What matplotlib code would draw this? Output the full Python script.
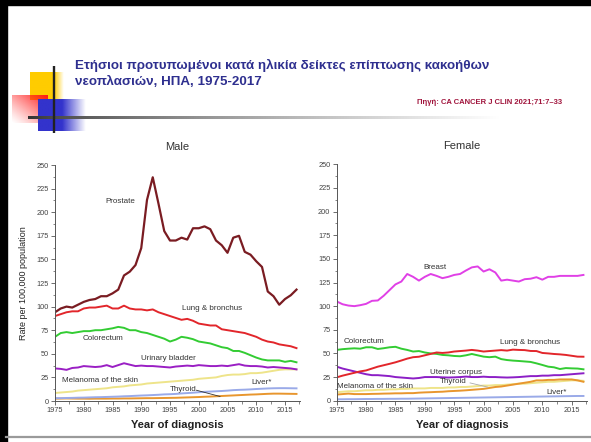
import numpy as np
import matplotlib
matplotlib.use("Agg")
import matplotlib.pyplot as plt
from matplotlib.ticker import MultipleLocator

years = list(range(1975, 2018))

# ---- Male ----
male_prostate = [94, 98, 100, 99, 102, 105, 107, 108, 111, 111, 114, 118, 133, 137, 144, 162, 213, 237, 209, 180,
                 170, 170, 173, 171, 183, 183, 185, 182, 170, 165, 157, 173, 175, 158, 155, 148, 142, 116, 111, 102,
                 108, 112, 118]
male_lung = [90, 92, 94, 95, 95, 98, 99, 99, 100, 101, 98, 98, 101, 98, 97, 97, 96, 97, 94, 92,
             90, 88, 86, 87, 85, 82, 81, 80, 80, 76, 75, 74, 73, 72, 70, 68, 65, 63, 62, 60,
             59, 58, 56]
male_colorectum = [68, 72, 73, 72, 73, 74, 74, 75, 75, 76, 77, 78.5, 77.5, 75, 75, 73, 72, 70, 68, 66,
                   63, 65, 68, 67, 65.5, 63, 62, 61, 59, 57, 56, 53, 53, 51, 48.5, 46, 44, 43, 43, 43,
                   41.5, 42.5, 41]
male_bladder = [34.5, 34, 33, 35, 35.5, 37, 36.5, 36, 36.5, 38, 36, 38, 40, 38.5, 37, 37.5, 37, 37, 36.5, 36,
                35.5, 36.5, 37, 37.5, 37, 38, 37.5, 37, 37, 37.5, 37, 38, 39, 37.5, 37, 37, 36.5, 35.5, 36, 35.5,
                35, 34.5, 33.5]
male_melanoma = [8.5, 9, 9.5, 10, 11, 11.5, 12, 12.5, 13, 13.5, 14.5, 15, 15.5, 16.5, 17, 17.5, 18.5, 19, 19.5, 20,
                 20.5, 21, 21.5, 22, 22.5, 23.5, 24, 24.5, 25, 26.5, 27.5, 28, 28, 28.5, 29.5, 29.5, 30, 31, 32, 33,
                 33.5, 33.5, 33.5]
male_liver = [3, 3, 3.2, 3.3, 3.5, 3.6, 3.8, 4, 4.1, 4.3, 4.5, 4.7, 5, 5.2, 5.5, 5.8, 6, 6.3, 6.6, 7,
              7.2, 7.5, 8, 8.4, 8.8, 9.3, 9.7, 10, 10.3, 10.6, 11, 11.5, 11.8, 12, 12.3, 12.7, 13, 13.3, 13.5, 13.6,
              13.6, 13.5, 13.4]
male_thyroid = [2.5, 2.6, 2.7, 2.6, 2.5, 2.5, 2.4, 2.5, 2.5, 2.5, 2.6, 2.6, 2.7, 2.7, 2.8, 2.9, 3, 3, 3.1, 3.2,
                3.3, 3.4, 3.6, 3.8, 4, 4.2, 4.5, 4.7, 5, 5.3, 5.6, 5.9, 6.2, 6.5, 6.8, 7, 7.3, 7.6, 7.8, 7.8,
                7.7, 7.6, 7.5]

# ---- Female ----
female_breast = [105, 102, 100.6, 100, 101, 102.4, 105.6, 106, 111, 117, 123, 126, 134, 131, 127, 131, 134, 132, 129.6, 131,
                 133, 134, 137.7, 141, 142, 136.6, 139, 135.6, 127, 128, 127, 126, 128.5, 129, 130.6, 128, 131, 131, 132, 132,
                 132, 132, 133]
female_lung = [24.7, 26.5, 28, 29.5, 31, 32, 34, 36, 37.5, 39, 40.6, 42.5, 44.5, 46, 46.5, 48, 49.5, 51, 50.5, 51,
               52, 52.5, 53, 53.7, 53, 52, 52.5, 53, 53.5, 53, 54, 53.7, 53.5, 52.6, 52.5, 50.5, 50, 49.4, 49, 48.4,
               47.5, 46.6, 46.5]
female_colorectum = [53.7, 54.5, 55, 55.4, 55, 56.5, 56.5, 54.7, 55.5, 56.5, 57, 55, 53.7, 52, 52.5, 51, 50, 49.5, 48.4, 48,
                     47.3, 47, 48, 49.4, 48, 46.6, 46, 46.6, 44, 43, 42.4, 42, 41.5, 41, 39.5, 37.8, 36, 35.3, 33.5, 34.5,
                     34.2, 34, 33.2]
female_uterine = [36, 34, 32.5, 31, 29.5, 28, 27, 27, 26.5, 26, 25, 24.5, 24, 23.5, 24, 25, 25, 25, 24.7, 24.5,
                  24.7, 25, 25.5, 25, 25, 25.4, 25, 25, 24.7, 24.5, 24.7, 25, 25.5, 26, 26, 26.5, 26.5, 27, 27, 27.5,
                  28, 28.5, 29]
female_melanoma = [9, 9.5, 10, 10, 10.5, 11, 11, 11.5, 11.5, 12, 12, 12.5, 12.5, 13, 13, 13, 13.5, 13.5, 13.5, 14,
                   14, 14.5, 14.5, 15, 15.5, 16, 16, 16.5, 16.5, 17, 17.5, 18, 18, 18.5, 19, 19.5, 20, 20, 20.5, 21,
                   21.5, 21.5, 21]
female_thyroid = [6.5, 7, 7.5, 7, 7, 7, 7.2, 7.3, 7.5, 7.6, 7.8, 7.8, 8, 8, 8.5, 8.8, 9, 9.3, 9.5, 10,
                  10.3, 10.6, 11, 11.5, 12, 12.5, 13.5, 14.5, 15, 16, 17, 18, 19, 20, 21.5, 21.5, 22, 22, 22.5, 22.5,
                  22.5, 21.5, 20]
female_liver = [1.5, 1.5, 1.6, 1.6, 1.7, 1.8, 1.8, 1.9, 1.9, 2.0, 2.0, 2.1, 2.1, 2.2, 2.3, 2.4, 2.5, 2.6, 2.7, 2.8,
                2.9, 3.0, 3.1, 3.2, 3.3, 3.4, 3.5, 3.6, 3.7, 3.8, 3.9, 4.0, 4.1, 4.2, 4.3, 4.4, 4.5, 4.6, 4.7, 4.8,
                4.9, 5.0, 5.0]

x_ticks = [1975, 1980, 1985, 1990, 1995, 2000, 2005, 2010, 2015]
y_ticks = [0, 25, 50, 75, 100, 125, 150, 175, 200, 225, 250]

C_PROSTATE = "#7a1c22"
C_LUNG = "#e2262b"
C_COLO = "#33cc33"
C_BLAD = "#9a1fc4"
C_MEL = "#eee48a"
C_LIVER = "#9aaae8"
C_THY = "#e8962e"
C_BREAST = "#e040e6"
C_UTER = "#8c1fc6"

plt.rcParams['font.family'] = ['Liberation Sans', 'DejaVu Sans']

W, H = 591, 442
fig = plt.figure(figsize=(W / 100, H / 100), dpi=100)
fig.patch.set_facecolor("white")

# ---------- slide decorations (pixel coordinates) ----------
deco = fig.add_axes([0, 0, 1, 1], zorder=0)
deco.set_xlim(0, W)
deco.set_ylim(H, 0)
deco.axis("off")

def grad_rect(ax, x0, x1, y0, y1, rgb, solid_frac, z):
    n = 100
    a = np.ones(n)
    k = int(n * solid_frac)
    a[k:] = np.linspace(1, 0, n - k)
    img = np.zeros((2, n, 4))
    img[..., :3] = rgb
    img[..., 3] = a
    ax.imshow(img, extent=[x0, x1, y1, y0], aspect="auto", zorder=z, interpolation="bilinear")

# yellow
grad_rect(deco, 30, 64, 72, 100, (1.0, 0.80, 0.0), 0.7, 1)
# red diagonal gradient
n = 60
xx, yy = np.meshgrid(np.linspace(0, 1, n), np.linspace(0, 1, n))
alpha = np.clip((xx + (1 - yy)) / 2.0, 0, 1) ** 1.2
red = np.zeros((n, n, 4))
red[..., 0] = 1.0
red[..., 1] = 0.1
red[..., 2] = 0.1
red[..., 3] = alpha
deco.imshow(red, extent=[12, 48, 123, 95], aspect="auto", zorder=2, interpolation="bilinear")
# blue
grad_rect(deco, 38, 86, 99, 131, (0.2, 0.2, 0.8), 0.5, 3)
# black vertical line
deco.plot([54, 54], [66, 133], color="#222222", lw=1.7, zorder=5, solid_capstyle="butt")
# horizontal gradient line (image strip)
nl = 400
tt = np.linspace(0, 1, nl)
gg = 0.2 + 0.8 * tt ** 0.75
strip = np.zeros((2, nl, 3))
strip[..., 0] = gg
strip[..., 1] = gg
strip[..., 2] = gg
deco.imshow(strip, extent=[28, 500, 119, 116], aspect="auto", zorder=4, interpolation="bilinear")
# borders
deco.add_patch(plt.Rectangle((0, 0), 6.5, H, color="black", zorder=6))
deco.add_patch(plt.Rectangle((0, 0), W, 4.5, color="black", zorder=6))
deco.plot([6, W], [437, 437], color="#9a9a9a", lw=1.6, zorder=6)
deco.set_xlim(0, W)
deco.set_ylim(H, 0)

# ---------- titles ----------
title_color = "#2e2f8f"
t1 = fig.text(75 / W, 1 - 65 / H, "Ετήσιοι προτυπωμένοι κατά ηλικία δείκτες επίπτωσης κακοήθων",
              fontsize=11, fontweight="bold", color=title_color, ha="left", va="center")
t2 = fig.text(75 / W, 1 - 82 / H, "νεοπλασιών, ΗΠΑ, 1975-2017",
              fontsize=11, fontweight="bold", color=title_color, ha="left", va="center")
src = fig.text(562 / W, 1 - 102 / H, "Πηγή: CA CANCER J CLIN 2021;71:7–33",
               fontsize=5.5, fontweight="bold", color="#a0143c", ha="right", va="center")

# auto-fit title width
fig.canvas.draw()
r = fig.canvas.get_renderer()
w1 = t1.get_window_extent(r).width
fs = 11 * 415 / w1
t1.set_fontsize(fs)
t2.set_fontsize(fs)
ws = src.get_window_extent(r).width
src.set_fontsize(5.5 * 144 / ws)

# ---------- chart axes ----------
XMAX = 2017.6
axM = fig.add_axes([55 / W, 1 - 401 / H, (XMAX - 1975) * 5.75 / W, 236 / H], zorder=2)
axF = fig.add_axes([336.7 / W, 1 - 400.7 / H, (XMAX - 1975) * 5.875 / W, 236.4 / H], zorder=2)

for ax in (axM, axF):
    ax.set_xlim(1975, XMAX)
    ax.set_ylim(0, 250)
    ax.set_facecolor("none")
    for s in ("top", "right"):
        ax.spines[s].set_visible(False)
    for s in ("left", "bottom"):
        ax.spines[s].set_color("#555555")
        ax.spines[s].set_linewidth(0.7)
    ax.set_xticks(x_ticks)
    ax.set_yticks(y_ticks)
    ax.yaxis.set_minor_locator(MultipleLocator(12.5))
    ax.xaxis.set_minor_locator(MultipleLocator(2.5))
    ax.tick_params(axis="both", which="major", labelsize=5.3, labelcolor="#444444",
                   color="#555555", length=3, width=0.6, pad=1.5)
    ax.tick_params(axis="both", which="minor", color="#555555", length=1.8, width=0.5)
    ax.set_xlabel("Year of diagnosis", fontsize=8, fontweight="bold", color="#222222", labelpad=4)

axM.set_ylabel("Rate per 100,000 population", fontsize=6.5, color="#222222", labelpad=6)
axM.set_title("Male", fontsize=8, color="#333333", pad=11)
axF.set_title("Female", fontsize=8, color="#333333", pad=11)

LW = 1.4
# male series
axM.plot(years, male_thyroid, color=C_THY, lw=LW)
axM.plot(years, male_liver, color=C_LIVER, lw=LW)
axM.plot(years, male_melanoma, color=C_MEL, lw=LW)
axM.plot(years, male_bladder, color=C_BLAD, lw=LW)
axM.plot(years, male_colorectum, color=C_COLO, lw=LW)
axM.plot(years, male_lung, color=C_LUNG, lw=LW)
axM.plot(years, male_prostate, color=C_PROSTATE, lw=1.6)

# female series
axF.plot(years, female_liver, color=C_LIVER, lw=LW)
axF.plot(years, female_melanoma, color=C_MEL, lw=LW)
axF.plot(years, female_thyroid, color=C_THY, lw=LW)
axF.plot(years, female_uterine, color=C_UTER, lw=LW)
axF.plot(years, female_colorectum, color=C_COLO, lw=LW)
axF.plot(years, female_lung, color=C_LUNG, lw=LW)
axF.plot(years, female_breast, color=C_BREAST, lw=LW)

lab = dict(fontsize=5.8, color="#333333", ha="left", va="center")
axM.text(1983.7, 211, "Prostate", **lab)
axM.text(1997.0, 98, "Lung & bronchus", **lab)
axM.text(1979.8, 66.4, "Colorectum", **lab)
axM.text(1989.9, 44.8, "Urinary bladder", **lab)
axM.text(1976.3, 21.5, "Melanoma of the skin", **lab)
axM.text(1995.0, 12.4, "Thyroid", **lab)
axM.plot([1999.6, 2003.7], [11.4, 4.8], color="#333333", lw=0.6)
axM.text(2009.2, 19.4, "Liver*", **lab)

axF.text(1989.7, 141.2, "Breast", **lab)
axF.text(1976.1, 62.4, "Colorectum", **lab)
axF.text(2002.8, 61.4, "Lung & bronchus", **lab)
axF.text(1990.8, 29.6, "Uterine corpus", **lab)
axF.text(1992.6, 20.1, "Thyroid", **lab)
axF.plot([1997.7, 2000.7], [18.8, 14.4], color="#aaaaaa", lw=0.6)
axF.text(1975.1, 14.8, "Melanoma of the skin", **lab)
axF.text(2010.7, 8.5, "Liver*", **lab)

fig.savefig("out.png", dpi=100, facecolor="white")
